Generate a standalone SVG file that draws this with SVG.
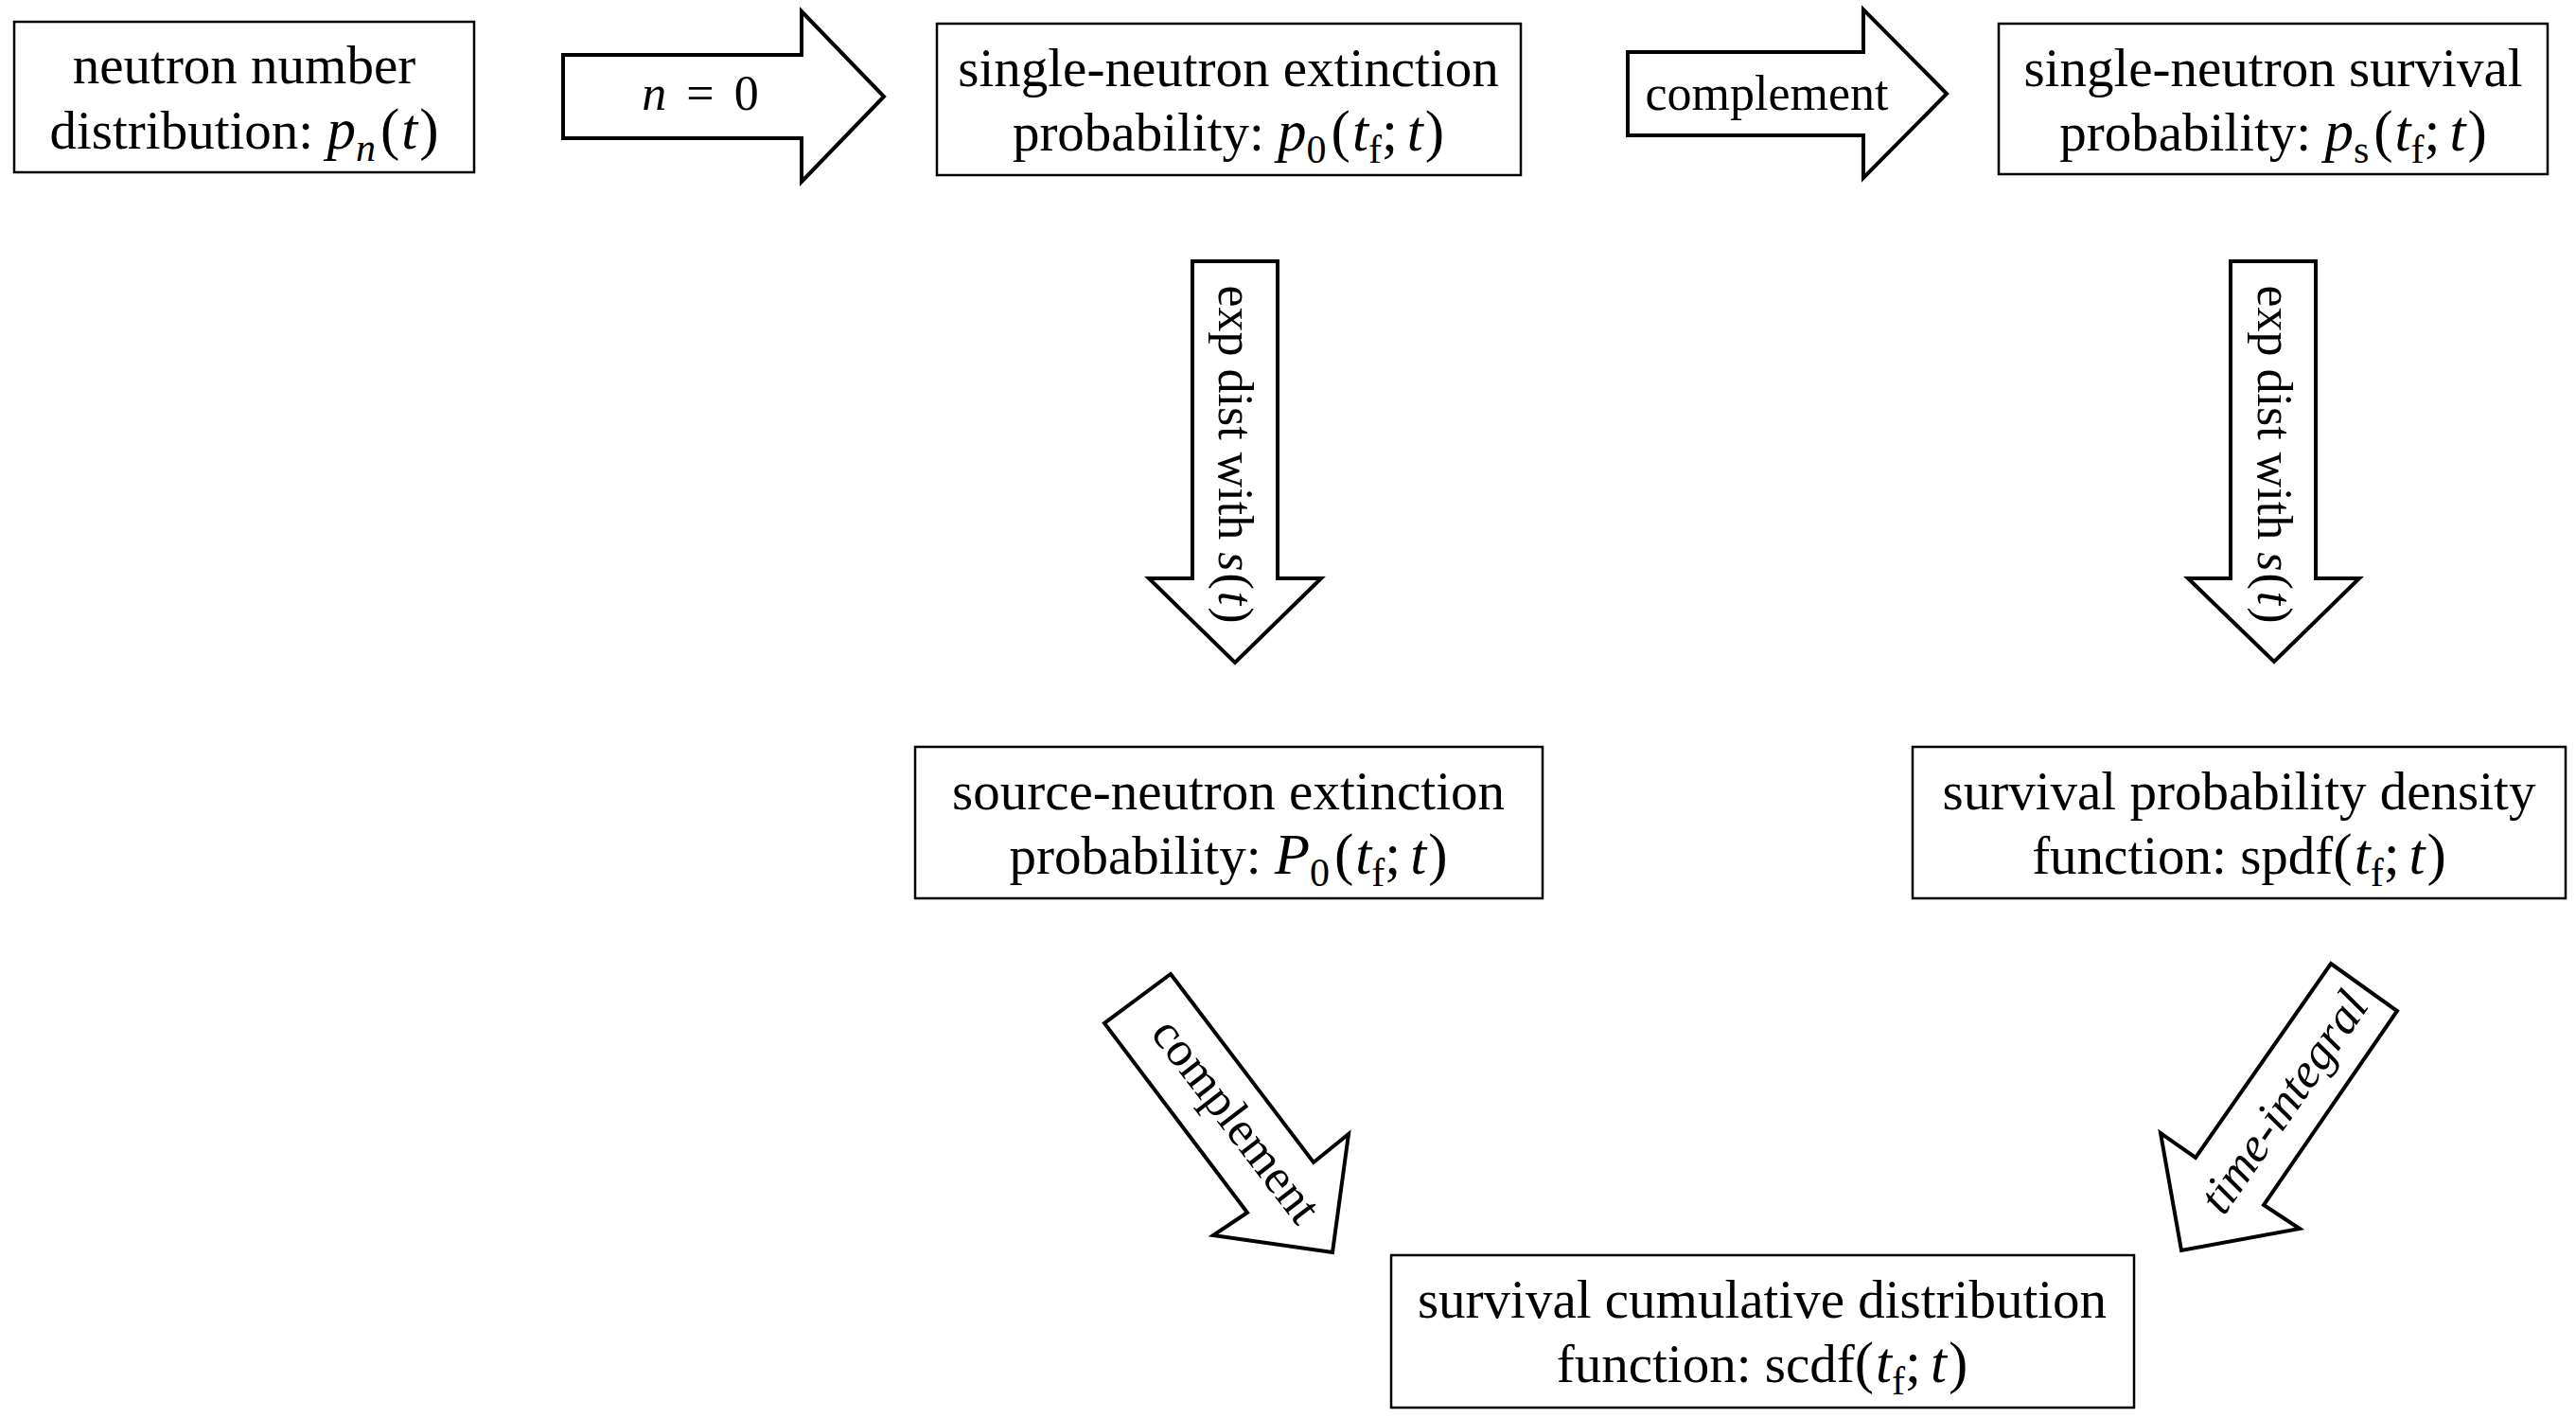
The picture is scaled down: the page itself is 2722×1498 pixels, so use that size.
<svg xmlns="http://www.w3.org/2000/svg" width="2722" height="1498" viewBox="0 0 2722 1498">
<style>
  .box { fill: #ffffff; stroke: #000000; stroke-width: 2.5; }
  .arrow { fill: #ffffff; stroke: #000000; stroke-width: 4; stroke-linejoin: miter; }
  .t { font-family: "Liberation Serif", "Times New Roman", serif; font-size: 57px; fill: #000000; text-anchor: middle; }
  .lbl { font-family: "Liberation Serif", "Times New Roman", serif; font-size: 52px; fill: #000000; text-anchor: middle; }
  .i { font-style: italic; }
  .m { font-size: 61px; }
  .sub { font-size: 42px; }
</style>
<rect width="2722" height="1498" fill="#ffffff"/>

<g id="connectors">
  <g id="arrow-n0">
    <polygon class="arrow" points="595,58 847,58 847,12 934,102 847,192 847,146 595,146"/>
    <text class="lbl" x="740" y="116" style="word-spacing:8px"><tspan class="i">n</tspan> = 0</text>
  </g>
  <g id="arrow-complement-top">
    <polygon class="arrow" points="1720,55 1969,55 1969,10 2057,99 1969,188 1969,143 1720,143"/>
    <text class="lbl" x="1867" y="116">complement</text>
  </g>
  <g id="arrow-exp-left">
    <polygon class="arrow" points="1260,276 1350,276 1350,611 1396,611 1305,700 1214,611 1260,611"/>
    <text class="lbl" transform="translate(1288,480) rotate(90)">exp dist with <tspan class="i">s</tspan><tspan dx="2">(</tspan><tspan class="i" dx="2">t</tspan><tspan dx="2">)</tspan></text>
  </g>
  <g id="arrow-exp-right">
    <polygon class="arrow" points="2357,276 2447,276 2447,611 2493,611 2403,699 2312,611 2357,611"/>
    <text class="lbl" transform="translate(2386,480) rotate(90)">exp dist with <tspan class="i">s</tspan><tspan dx="2">(</tspan><tspan class="i" dx="2">t</tspan><tspan dx="2">)</tspan></text>
  </g>
  <g id="arrow-complement-diag">
    <polygon class="arrow" points="1237,1029 1388,1228 1425,1198 1408,1323 1282,1305 1318,1281 1167,1081"/>
    <text class="lbl" transform="translate(1293,1194) rotate(52.5)">complement</text>
  </g>
  <g id="arrow-time-integral">
    <polygon class="arrow" points="2463,1018 2533,1068 2392,1273 2430,1298 2305,1321 2283,1197 2320,1223"/>
    <text class="lbl i" transform="translate(2427,1174) rotate(-55.3)">time-integral</text>
  </g>
</g>

<g id="node-pn">
  <rect class="box" x="15" y="23" width="486" height="159"/>
  <text class="t" x="258" y="88">neutron number</text>
  <text class="t" x="258" y="157">distribution: <tspan class="m"><tspan class="i">p</tspan><tspan class="sub i" dy="13">n</tspan><tspan dy="-13" dx="5">(</tspan><tspan class="i" dx="2">t</tspan><tspan dx="2">)</tspan></tspan></text>
</g>

<g id="node-p0">
  <rect class="box" x="990" y="25" width="617" height="160"/>
  <text class="t" x="1298" y="91">single-neutron extinction</text>
  <text class="t" x="1298" y="159">probability: <tspan class="m"><tspan class="i">p</tspan><tspan class="sub" dy="13">0</tspan><tspan dy="-13" dx="5">(</tspan><tspan class="i" dx="2">t</tspan><tspan class="sub" dy="13">f</tspan><tspan dy="-13">;</tspan><tspan class="i" dx="10">t</tspan><tspan dx="2">)</tspan></tspan></text>
</g>

<g id="node-ps">
  <rect class="box" x="2112" y="25" width="580" height="159"/>
  <text class="t" x="2402" y="91">single-neutron survival</text>
  <text class="t" x="2402" y="159">probability: <tspan class="m"><tspan class="i">p</tspan><tspan class="sub" dy="13">s</tspan><tspan dy="-13" dx="5">(</tspan><tspan class="i" dx="2">t</tspan><tspan class="sub" dy="13">f</tspan><tspan dy="-13">;</tspan><tspan class="i" dx="10">t</tspan><tspan dx="2">)</tspan></tspan></text>
</g>

<g id="node-P0">
  <rect class="box" x="967" y="789" width="663" height="160"/>
  <text class="t" x="1298" y="855">source-neutron extinction</text>
  <text class="t" x="1298" y="923">probability: <tspan class="m"><tspan class="i">P</tspan><tspan class="sub" dy="13">0</tspan><tspan dy="-13" dx="5">(</tspan><tspan class="i" dx="2">t</tspan><tspan class="sub" dy="13">f</tspan><tspan dy="-13">;</tspan><tspan class="i" dx="10">t</tspan><tspan dx="2">)</tspan></tspan></text>
</g>

<g id="node-spdf">
  <rect class="box" x="2021" y="789" width="690" height="160"/>
  <text class="t" x="2366" y="855">survival probability density</text>
  <text class="t" x="2366" y="923">function: spdf<tspan class="m"><tspan>(</tspan><tspan class="i" dx="2">t</tspan><tspan class="sub" dy="13">f</tspan><tspan dy="-13">;</tspan><tspan class="i" dx="10">t</tspan><tspan dx="2">)</tspan></tspan></text>
</g>

<g id="node-scdf">
  <rect class="box" x="1470" y="1326" width="785" height="161"/>
  <text class="t" x="1862" y="1392">survival cumulative distribution</text>
  <text class="t" x="1862" y="1460">function: scdf<tspan class="m"><tspan>(</tspan><tspan class="i" dx="2">t</tspan><tspan class="sub" dy="13">f</tspan><tspan dy="-13">;</tspan><tspan class="i" dx="10">t</tspan><tspan dx="2">)</tspan></tspan></text>
</g>
</svg>
